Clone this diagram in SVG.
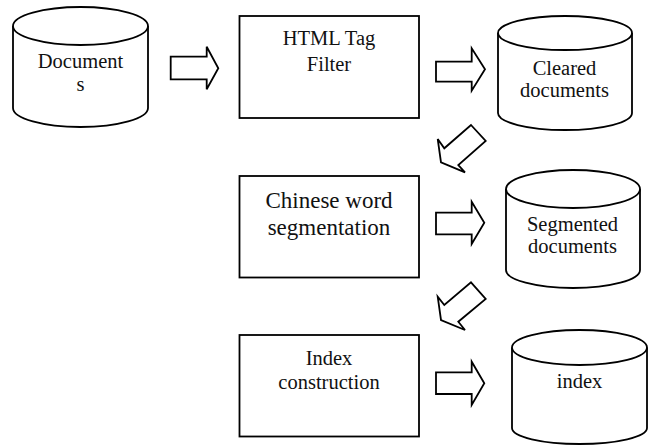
<svg xmlns="http://www.w3.org/2000/svg" width="653" height="445" viewBox="0 0 653 445">
  <style>
    .shape { fill: #ffffff; stroke: #000000; stroke-width: 1.8; stroke-linejoin: miter; }
    .arrow { fill: #ffffff; stroke: #000000; stroke-width: 1.8; stroke-linejoin: miter; }
    .label { font-family: "Liberation Serif", "Times New Roman", serif; font-size: 20.5px; fill: #111111; text-anchor: middle; }
    .big { font-size: 23px; }
  </style>
  <rect x="0" y="0" width="653" height="445" fill="#ffffff"/>

  <!-- Stores (cylinders) -->
  <g id="documents">
    <path class="shape" d="M13,26 L13,108 A67.5,19 0 0 0 148,108 L148,26"/>
    <ellipse class="shape" cx="80.5" cy="26" rx="67.5" ry="19"/>
    <text class="label" x="80.5" y="68">Document</text>
    <text class="label" x="80.5" y="91">s</text>
  </g>

  <g id="cleared-documents">
    <path class="shape" d="M498,33 L498,113 A67,17 0 0 0 632,113 L632,33"/>
    <ellipse class="shape" cx="565" cy="33" rx="67" ry="17"/>
    <text class="label" x="564.5" y="75">Cleared</text>
    <text class="label" x="564.5" y="97">documents</text>
  </g>

  <g id="segmented-documents">
    <path class="shape" d="M506,189 L506,270 A67,18 0 0 0 640,270 L640,189"/>
    <ellipse class="shape" cx="573" cy="189" rx="67" ry="19"/>
    <text class="label" x="572.5" y="231">Segmented</text>
    <text class="label" x="572.5" y="253">documents</text>
  </g>

  <g id="index">
    <path class="shape" d="M512,347.5 L512,428 A67.5,16 0 0 0 647,428 L647,347.5"/>
    <ellipse class="shape" cx="579.5" cy="347.5" rx="67.5" ry="17.5"/>
    <text class="label" x="579.5" y="388">index</text>
  </g>

  <!-- Processing steps -->
  <g id="html-tag-filter">
    <rect class="shape" x="239.5" y="16" width="179.5" height="102"/>
    <text class="label" x="329" y="45">HTML Tag</text>
    <text class="label" x="329" y="71">Filter</text>
  </g>

  <g id="chinese-word-segmentation">
    <rect class="shape" x="239.5" y="176" width="179.5" height="101.5"/>
    <text class="label big" x="329" y="208">Chinese word</text>
    <text class="label big" x="329" y="235">segmentation</text>
  </g>

  <g id="index-construction">
    <rect class="shape" x="239.5" y="335" width="179.5" height="101.5"/>
    <text class="label" x="329" y="365">Index</text>
    <text class="label" x="329" y="389">construction</text>
  </g>

  <!-- Block arrows between stages -->
  <g id="connectors">
    <polygon class="arrow" points="170.7,56.7 206.7,56.7 206.7,46.7 218.3,68.3 206.7,89.3 206.7,79.3 170.7,79.3"/>
    <polygon class="arrow" points="436,61.7 471.7,61.7 471.7,48.3 485,69.3 471.7,90.7 471.7,81.7 436,81.7"/>
    <polygon class="arrow" points="471,125 485.7,141 458.3,165 465,172.3 441,162.3 437.7,139 444.3,148.3"/>
    <polygon class="arrow" points="436,212.7 471.7,212.7 471.7,201.7 484.3,222.7 471.7,244 471.7,234.3 436,234.3"/>
    <polygon class="arrow" points="471,282.3 485.7,299 458.3,321.7 465,330 441,320 437.7,296.7 444.3,305"/>
    <polygon class="arrow" points="436,372.3 471.7,372.3 471.7,361.7 484.3,383.3 471.7,405 471.7,394 436,394"/>
  </g>
</svg>
